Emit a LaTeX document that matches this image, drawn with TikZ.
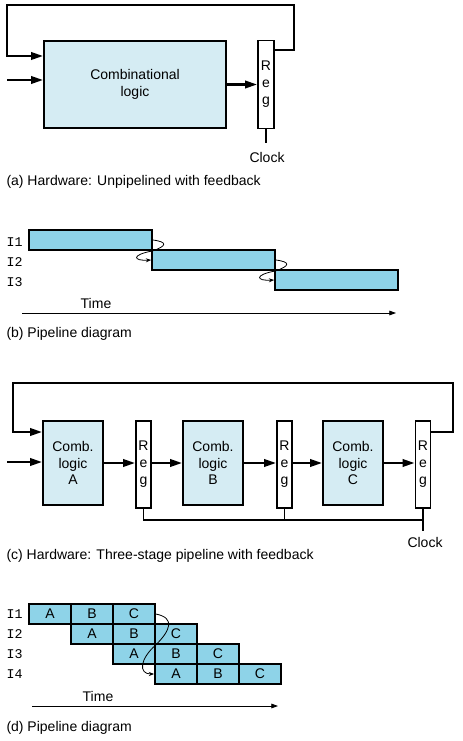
\documentclass[tikz,border=0pt]{standalone}
\usepackage{fontspec}
\setmainfont{Liberation Sans}
\setmonofont{Liberation Mono}
\usetikzlibrary{arrows.meta}

\definecolor{combfill}{HTML}{D5ECF3}
\definecolor{barfill}{HTML}{8ED3E8}

\tikzset{every picture/.style={line width=0.75pt}}
\tikzset{
  logicbox/.style={draw, line width=1.3pt, fill=combfill, align=center, inner sep=0pt, font=\fontsize{10.5}{12.2}\selectfont},
  regbox/.style={draw, line width=1.3pt, fill=white, align=center, inner sep=0pt, minimum width=12pt, minimum height=66pt, font=\fontsize{10.5}{12.7}\selectfont},
  feed/.style={line width=1.8pt, -{Triangle[length=9pt,width=5.5pt]}},
  clk/.style={line width=0.9pt},
  bar/.style={draw, line width=1.3pt, fill=barfill, inner sep=0pt, minimum height=15pt},
  cell/.style={bar, minimum width=31.5pt},
  instr/.style={anchor=west, inner sep=0pt, font=\ttfamily\fontsize{10}{11}\selectfont},
  hop/.style={line width=0.6pt, -{Stealth[length=4pt,width=3pt]}},
  timeline/.style={line width=0.6pt, -{Triangle[length=5pt,width=3.5pt]}},
  caption/.style={anchor=west, inner sep=0pt},
}

\begin{document}
\begin{tikzpicture}[x=0.75pt,y=0.75pt,yscale=-1,xscale=1,font=\fontsize{10.5}{12.2}\selectfont]
\useasboundingbox (0,0) rectangle (462,741);

%(a) unpipelined hardware
\node[logicbox, minimum width=136.5pt, minimum height=65.25pt] (comb) at (135,84.5) {Combinational\\logic};
\node[regbox] (rega) at (266,84.5) {R\\e\\g};
\coordinate (ina) at (7,80);
\coordinate (fba) at (294,50);
\draw[feed] (ina) -- (ina -| comb.west);
\draw[feed] (fba -| rega.east) -- (fba) -- (294,5) -- (7,5) -- (7,56) -- (comb.west |- 0,56);
\draw[feed] (comb.east) -- (comb.east -| rega.west);
\draw[clk] (rega.south) -- ++(0,14);
% Text Node
\node (clka) at (267,157) {Clock};
% Text Node
\node[caption] (capa) at (6,182) {(a) Hardware: Unpipelined with feedback};

%(b) pipeline diagram
\node[bar, minimum width=92.25pt] (b1) at (90.5,240) {};
\node[bar, minimum width=92.25pt] (b2) at (213.5,260) {};
\node[bar, minimum width=92.25pt] (b3) at (336.5,280) {};
\foreach \i in {1,2,3}
  \node[instr] (lb\i) at (6,222+20*\i) {I\i};
\draw[hop] (b1.east) .. controls +(15,2) and +(14,-5) .. (b1.south east) .. controls +(-22,4) and +(-18,1) .. (b2.west);
\draw[hop] (b2.east) .. controls +(15,2) and +(14,-5) .. (b2.south east) .. controls +(-22,4) and +(-18,1) .. (b3.west);
% Text Node
\node (timeb) at (96,303) {Time};
\coordinate (tb0) at (22,313);
\coordinate (tb1) at (396,313);
\draw[timeline] (tb0) -- (tb1);
% Text Node
\node[caption] (capb) at (6,334) {(b) Pipeline diagram};

%(c) three-stage hardware
\node[logicbox, minimum width=45pt, minimum height=63pt] (combA) at (73,463) {Comb.\\logic\\A};
\node[logicbox, minimum width=45pt, minimum height=63pt] (combB) at (213,463) {Comb.\\logic\\B};
\node[logicbox, minimum width=45pt, minimum height=63pt] (combC) at (353,463) {Comb.\\logic\\C};
\node[regbox, minimum width=11.25pt, minimum height=65.25pt] (reg1) at (143.5,464.5) {R\\e\\g};
\node[regbox, minimum width=11.25pt, minimum height=65.25pt] (reg2) at (284.5,464.5) {R\\e\\g};
\node[regbox, minimum width=11.25pt, minimum height=65.25pt] (reg3) at (423,464.5) {R\\e\\g};
\coordinate (inc) at (7,462);
\coordinate (fbc) at (453,432);
\draw[feed] (inc) -- (inc -| combA.west);
\draw[feed] (fbc -| reg3.east) -- (fbc) -- (453,383) -- (13,383) -- (13,432) -- (combA.west |- fbc);
\draw[feed] (combA.east) -- (combA.east -| reg1.west);
\draw[feed] (combB.west -| reg1.east) -- (combB.west);
\draw[feed] (combB.east) -- (combB.east -| reg2.west);
\draw[feed] (combC.west -| reg2.east) -- (combC.west);
\draw[feed] (combC.east) -- (combC.east -| reg3.west);
\coordinate (clkbus) at (0,520);
\draw[clk] (reg1.south) -- (reg1.south |- clkbus) -- (reg3.south |- clkbus);
\draw[clk] (reg2.south) -- (reg2.south |- clkbus);
\draw[clk] (reg3.south) -- ++(0,22);
% Text Node
\node (clkc) at (425,542) {Clock};
% Text Node
\node[caption] (capc) at (6,556) {(c) Hardware: Three-stage pipeline with feedback};

%(d) pipeline diagram
\foreach \r [evaluate=\r as \n using int(\r+1)] in {0,...,3} {
  \node[instr] (ld\r) at (6,614+20*\r) {I\n};
  \foreach \s/\t in {0/A,1/B,2/C}
    \node[cell] (c\r\s) at (50+42*\r+42*\s,614+20*\r) {\t};
}
\draw[hop] (c02.east) .. controls +(20,4) and +(14,-14) .. (c11.south east) .. controls +(-16,14) and +(-16,0) .. (c30.west);
% Text Node
\node (timed) at (98,696) {Time};
\coordinate (td0) at (32,706);
\coordinate (td1) at (278,706);
\draw[timeline] (td0) -- (td1);
% Text Node
\node[caption] (capd) at (6,728) {(d) Pipeline diagram};

\end{tikzpicture}
\end{document}
